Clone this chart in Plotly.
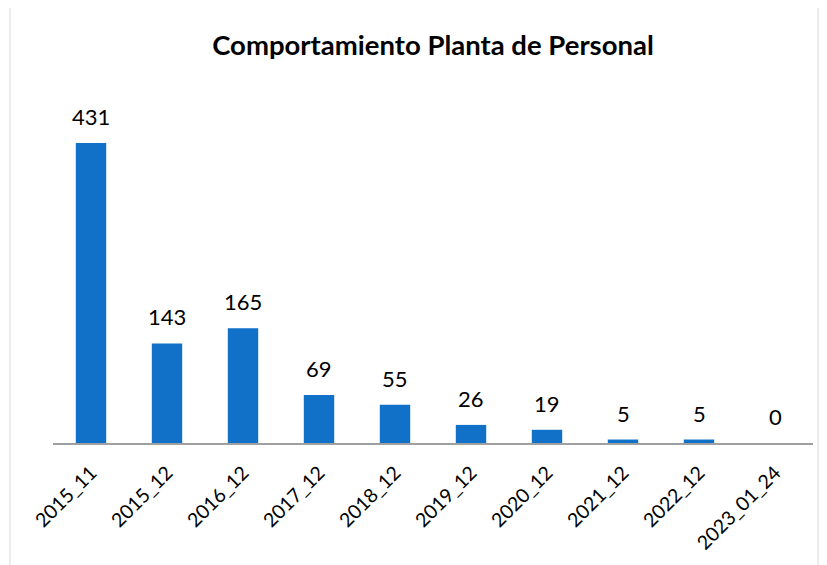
import plotly.graph_objects as go

categories = ["2015_11", "2015_12", "2016_12", "2017_12", "2018_12",
              "2019_12", "2020_12", "2021_12", "2022_12", "2023_01_24"]
values = [431, 143, 165, 69, 55, 26, 19, 5, 5, 0]

title = "Comportamiento Planta de Personal"
font_family = "Lato, 'Open Sans', sans-serif"

fig = go.Figure()
fig.add_trace(go.Bar(
    x=categories, y=values,
    marker=dict(color="#1170C8", line=dict(width=0)),
    hoverinfo="x+y",
))

for c, v in zip(categories, values):
    fig.add_annotation(x=c, y=v, text=str(v), showarrow=False,
                       yanchor="bottom", yshift=11,
                       font=dict(family=font_family, size=22, color="#000000"))

fig.add_shape(type="rect", xref="paper", yref="paper",
              x0=-0.0566, x1=1.0066, y0=-0.5, y1=1.2557,
              line=dict(color="#d9d9d9", width=1), layer="below")

fig.update_layout(
    width=827, height=565,
    margin=dict(l=45, r=22, t=87, b=130),
    paper_bgcolor="white", plot_bgcolor="white",
    bargap=0.6,
    showlegend=False,
    title=dict(text="<b>" + title + "</b>", x=0.5, xref="paper", y=1 - 37 / 565,
               yanchor="middle",
               font=dict(family=font_family, size=27.5, color="#000000")),
    xaxis=dict(showline=True, linecolor="#a0a0a0", linewidth=1.5,
               tickangle=-45, ticks="", showgrid=False, automargin=False,
               ticklabelstandoff=9,
               tickfont=dict(family=font_family, size=19.5, color="#000000")),
    yaxis=dict(range=[0, 500], visible=False, showgrid=False),
)

fig.write_html("out.html")
